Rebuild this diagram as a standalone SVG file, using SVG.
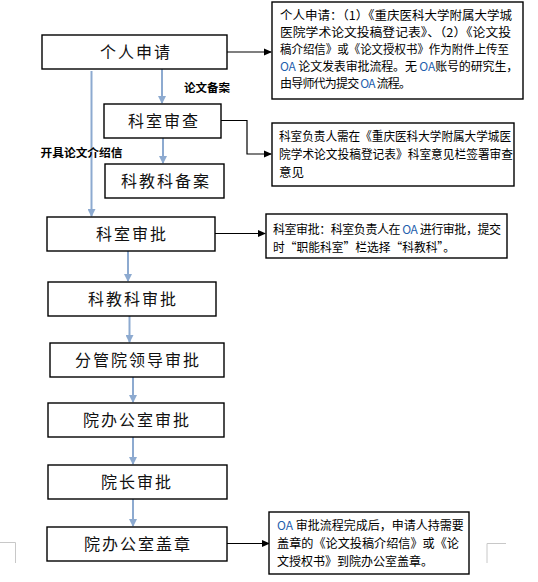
<svg xmlns="http://www.w3.org/2000/svg" width="538" height="582" viewBox="0 0 538 582">
<defs>
<style>
.box{fill:#fff;stroke:#000;stroke-width:1.4}
.bt{font-family:"Noto Sans CJK SC","Noto Sans",sans-serif;font-size:16px;fill:#111;text-anchor:middle;letter-spacing:2px}
.nt{font-family:"Noto Sans CJK SC","Noto Sans",sans-serif;font-size:12.5px;fill:#000}
.ns{font-family:"Noto Sans CJK SC","Noto Sans",sans-serif;font-size:12px;fill:#000}
.oa{fill:#1F5FAD}
.lb{font-family:"Noto Sans CJK SC","Noto Sans",sans-serif;font-size:11.5px;font-weight:bold;fill:#000}
.fl{stroke:#8DAAD0;stroke-width:2;fill:none}
.sl{stroke:#000;stroke-width:1.2;fill:none}
.cm{stroke:#C8C8C8;stroke-width:1;fill:none}
</style>
<marker id="ab" markerWidth="8" markerHeight="8" refX="7" refY="4" orient="auto" markerUnits="userSpaceOnUse"><path d="M0,0 L8,4 L0,8 Z" fill="#8DAAD0"/></marker>
<marker id="ak" markerWidth="8" markerHeight="8" refX="7" refY="4" orient="auto" markerUnits="userSpaceOnUse"><path d="M0,0.5 L8,4 L0,7.5 Z" fill="#000"/></marker>
</defs>
<g id="corners">
<path class="cm" d="M0,542.5 H15.5 V563"/>
<path class="cm" d="M506,543.5 H487 V563"/>
</g>
<g id="connectors">
<line class="fl" x1="162" y1="69" x2="162" y2="103" marker-end="url(#ab)"/>
<line class="fl" x1="163" y1="138" x2="163" y2="163" marker-end="url(#ab)"/>
<line class="fl" x1="91.5" y1="71" x2="91.5" y2="216" marker-end="url(#ab)"/>
<line class="fl" x1="128" y1="251" x2="128" y2="281" marker-end="url(#ab)"/>
<line class="fl" x1="129.5" y1="316" x2="129.5" y2="342" marker-end="url(#ab)"/>
<line class="fl" x1="133" y1="377" x2="133" y2="402" marker-end="url(#ab)"/>
<line class="fl" x1="133" y1="437" x2="133" y2="464" marker-end="url(#ab)"/>
<line class="fl" x1="133" y1="499" x2="133" y2="526" marker-end="url(#ab)"/>
<line class="sl" x1="227" y1="52" x2="271" y2="52" marker-end="url(#ak)"/>
<path class="sl" d="M221,120.5 H247 V154 H271" marker-end="url(#ak)"/>
<line class="sl" x1="215" y1="233.5" x2="265" y2="233.5" marker-end="url(#ak)"/>
<line class="sl" x1="227" y1="543.5" x2="269" y2="543.5" marker-end="url(#ak)"/>
<text class="lb" x="184" y="91.5" textLength="46" lengthAdjust="spacingAndGlyphs">论文备案</text>
<text class="lb" x="40.5" y="156.5" textLength="82" lengthAdjust="spacingAndGlyphs">开具论文介绍信</text>
</g>
<g id="n1"><rect class="box" x="42" y="35" width="185" height="34"/><text class="bt" x="136" y="58">个人申请</text></g>
<g id="n2"><rect class="box" x="104" y="104" width="117" height="34"/><text class="bt" x="164" y="127">科室审查</text></g>
<g id="n3"><rect class="box" x="105" y="164" width="119" height="34"/><text class="bt" x="166" y="187">科教科备案</text></g>
<g id="n4"><rect class="box" x="47" y="217" width="168" height="34"/><text class="bt" x="132" y="240">科室审批</text></g>
<g id="n5"><rect class="box" x="48" y="282" width="168" height="34"/><text class="bt" x="133" y="305">科教科审批</text></g>
<g id="n6"><rect class="box" x="50" y="343" width="174" height="34"/><text class="bt" x="138" y="366">分管院领导审批</text></g>
<g id="n7"><rect class="box" x="48" y="403" width="176" height="34"/><text class="bt" x="137" y="426">院办公室审批</text></g>
<g id="n8"><rect class="box" x="48" y="465" width="179" height="34"/><text class="bt" x="137" y="488">院长审批</text></g>
<g id="n9"><rect class="box" x="47" y="527" width="180" height="34"/><text class="bt" x="138" y="550">院办公室盖章</text></g>
<g id="note1"><rect class="box" x="272" y="2" width="251" height="97"/>
<text class="ns" x="280" y="19.5" textLength="232" lengthAdjust="spacingAndGlyphs">个人申请：（1）《重庆医科大学附属大学城</text>
<text class="ns" x="280" y="36.5" textLength="231" lengthAdjust="spacingAndGlyphs">医院学术论文投稿登记表》、（2）《论文投</text>
<text class="ns" x="280" y="53.5" textLength="229" lengthAdjust="spacingAndGlyphs">稿介绍信》或《论文授权书》作为附件上传至</text>
<text class="ns" x="280" y="70.5" letter-spacing="-0.15"><tspan class="oa">OA</tspan> 论文发表审批流程。无 <tspan class="oa">OA</tspan>账号的研究生，</text>
<text class="ns" x="280" y="87.5" letter-spacing="-0.8">由导师代为提交 <tspan class="oa">OA</tspan> 流程。</text>
</g>
<g id="note2"><rect class="box" x="272" y="123" width="242" height="63"/>
<text class="nt" x="279" y="140.5" textLength="232" lengthAdjust="spacingAndGlyphs">科室负责人需在《重庆医科大学附属大学城医</text>
<text class="nt" x="279" y="159" textLength="234" lengthAdjust="spacingAndGlyphs">院学术论文投稿登记表》科室意见栏签署审查</text>
<text class="nt" x="279" y="177">意见</text>
</g>
<g id="note3"><rect class="box" x="266" y="214" width="241" height="44"/>
<text class="ns" x="273" y="234" letter-spacing="-0.45">科室审批：科室负责人在 <tspan class="oa">OA</tspan> 进行审批，提交</text>
<text class="nt" x="273" y="251.5" textLength="182" lengthAdjust="spacingAndGlyphs">时“职能科室”栏选择“科教科”。</text>
</g>
<g id="note4"><rect class="box" x="269" y="512" width="200" height="62"/>
<text class="ns" x="277" y="529.5"><tspan class="oa">OA</tspan> 审批流程完成后，申请人持需要</text>
<text class="nt" x="277" y="548" textLength="182" lengthAdjust="spacingAndGlyphs">盖章的《论文投稿介绍信》或《论</text>
<text class="nt" x="277" y="566" textLength="156" lengthAdjust="spacingAndGlyphs">文授权书》到院办公室盖章。</text>
</g>
</svg>
